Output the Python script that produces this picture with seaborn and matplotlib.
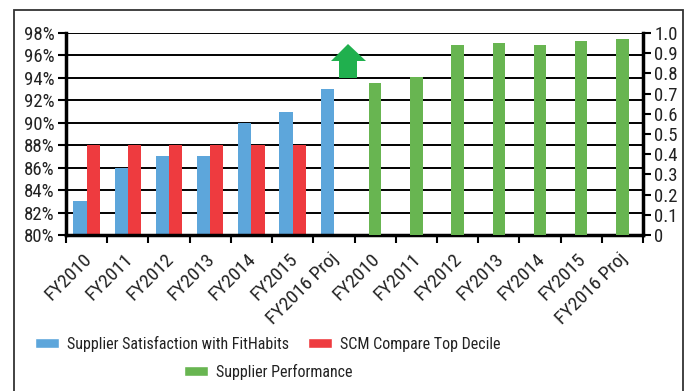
import matplotlib
matplotlib.use("Agg")
import matplotlib.pyplot as plt
import matplotlib.transforms as mtransforms
from matplotlib.patches import Polygon, Rectangle, Patch
from matplotlib import font_manager
import seaborn as sns
import pandas as pd
import numpy as np

# ---- data ----
sat_years = ["FY2010", "FY2011", "FY2012", "FY2013", "FY2014", "FY2015", "FY2016 Proj"]
satisfaction = [83, 86, 87, 87, 90, 91, 93]
top_decile_years = ["FY2010", "FY2011", "FY2012", "FY2013", "FY2014", "FY2015"]
top_decile = [88, 88, 88, 88, 88, 88]
perf_years = ["FY2010", "FY2011", "FY2012", "FY2013", "FY2014", "FY2015", "FY2016 Proj"]
performance = [0.75, 0.78, 0.94, 0.95, 0.94, 0.96, 0.97]
left_ticks = [80, 82, 84, 86, 88, 90, 92, 94, 96, 98]
right_ticks = [0, 0.1, 0.2, 0.3, 0.4, 0.5, 0.6, 0.7, 0.8, 0.9, 1.0]
right_tick_labels = ["0", "0.1", "0.2", "0.3", "0.4", "0.5", "0.6", "0.7", "0.8", "0.9", "1.0"]

BLUE = "#5DA6DB"
RED = "#EE3B3F"
GREEN = "#68B551"
ARROW = "#20B04E"
TXT = "#222222"

names = {f.name for f in font_manager.fontManager.ttflist}
fam = "Roboto Condensed" if "Roboto Condensed" in names else "Liberation Sans"

sns.set_theme(style="white")
plt.rcParams["font.family"] = [fam, "DejaVu Sans"]

keys_left = ["L_" + y for y in sat_years]
keys_right = ["R_" + y for y in perf_years]
order = keys_left + keys_right
labels = sat_years + perf_years

s1 = "Supplier Satisfaction with FitHabits"
s2 = "SCM Compare Top Decile"
s3 = "Supplier Performance"

df_left = pd.concat([
    pd.DataFrame({"key": ["L_" + y for y in sat_years], "value": satisfaction, "series": s1}),
    pd.DataFrame({"key": ["L_" + y for y in top_decile_years], "value": top_decile, "series": s2}),
])
df_right = pd.DataFrame({"key": keys_right, "value": performance, "series": s3})

fig = plt.figure(figsize=(6.89, 3.91), dpi=100)
ax = fig.add_axes([66 / 689, 1 - 235 / 391, (643 - 66) / 689, (235 - 33) / 391])

sns.barplot(data=df_left, x="key", y="value", hue="series", order=order,
            hue_order=[s1, s2], palette=[BLUE, RED], width=0.64, ax=ax,
            legend=False, saturation=1, edgecolor="none")
ax.set_ylim(80, 98)
ax.set_yticks(left_ticks)
ax.set_yticklabels([f"{v}%" for v in left_ticks])
ax.set_axisbelow(True)
ax.yaxis.grid(True, color="black", linewidth=1.4)
ax.xaxis.grid(False)

ax2 = ax.twinx()
sns.barplot(data=df_right, x="key", y="value", order=order, color=GREEN,
            width=0.3, ax=ax2, saturation=1, edgecolor="none")
ax2.set_ylim(0, 1.0)
ax2.set_yticks(right_ticks)
ax2.set_yticklabels(right_tick_labels)
ax2.grid(False)

for a in (ax, ax2):
    a.set_xlabel("")
    a.set_ylabel("")
    for s in a.spines.values():
        s.set_visible(False)

ax.spines["left"].set_visible(True)
ax.spines["left"].set_linewidth(2.5)
ax.spines["left"].set_color("black")
ax.spines["bottom"].set_visible(True)
ax.spines["bottom"].set_linewidth(2.5)
ax.spines["bottom"].set_color("black")
ax2.spines["right"].set_visible(True)
ax2.spines["right"].set_linewidth(2.5)
ax2.spines["right"].set_color("black")

n = len(order)
ax.set_xlim(-0.5, n - 0.5)
ax.tick_params(axis="x", which="major", direction="out", length=6, width=1.5,
               color="black", bottom=True)
ax.tick_params(axis="x", which="minor", length=0, pad=0, bottom=True)
ax.set_xticks(np.arange(n + 1) - 0.5)
ax.set_xticklabels([])
ax.set_xticks(np.arange(n), minor=True)
ax.set_xticklabels(labels, minor=True, rotation=45, ha="right", va="center",
                   rotation_mode="anchor", fontsize=14)

ax.tick_params(axis="y", direction="out", length=6, width=1.5, color="black",
               labelsize=13.5, pad=2, left=True)
ax2.tick_params(axis="y", direction="out", length=6, width=1.5, color="black",
                labelsize=13.5, pad=2, right=True)
for lab in ax.get_yticklabels() + ax2.get_yticklabels():
    lab.set_color(TXT)


def place_xlabels():
    # anchor the rotated labels ~21px below the axis, slightly right of centre
    off = mtransforms.ScaledTranslation(2 / 100, -21 / 100, fig.dpi_scale_trans)
    for lab in ax.get_xticklabels(minor=True):
        lab.set_transform(ax.get_xaxis_transform() + off)
        lab.set_va("center")
        lab.set_ha("right")
        lab.set_color(TXT)


place_xlabels()

# up arrow annotation (axes fraction coordinates)
def px(xp, yp):
    return ((xp - 66) / 577, (235 - yp) / 202)

arrow_pts = [px(348, 44), px(366, 61), px(357, 61), px(357, 78),
             px(339, 78), px(339, 61), px(331, 61)]
ax2.add_patch(Polygon(arrow_pts, closed=True, transform=ax2.transAxes,
                      facecolor=ARROW, edgecolor="none", zorder=5, clip_on=False))

# outer frame
fig.patches.append(Rectangle((14 / 689, -0.02), (683 - 14) / 689, 1 - 10 / 391 + 0.02,
                             transform=fig.transFigure, fill=False,
                             edgecolor="#333333", linewidth=1.3))

# legends
lx = 268 / 689
h1 = [Patch(facecolor=BLUE), Patch(facecolor=RED)]
leg1 = fig.legend(h1, [s1, s2], loc="center", bbox_to_anchor=(lx, 1 - 344 / 391),
                  ncol=2, frameon=False, fontsize=11.5, handlelength=1.5,
                  handleheight=0.6, columnspacing=1.2, handletextpad=0.5)
leg2 = fig.legend([Patch(facecolor=GREEN)], [s3], loc="center",
                  bbox_to_anchor=(lx, 1 - 372 / 391), frameon=False, fontsize=11.5,
                  handlelength=1.5, handleheight=0.6, handletextpad=0.5)
for lg in (leg1, leg2):
    for t in lg.get_texts():
        t.set_color(TXT)

fig.canvas.draw()
place_xlabels()
fig.savefig("out.png", dpi=100)
